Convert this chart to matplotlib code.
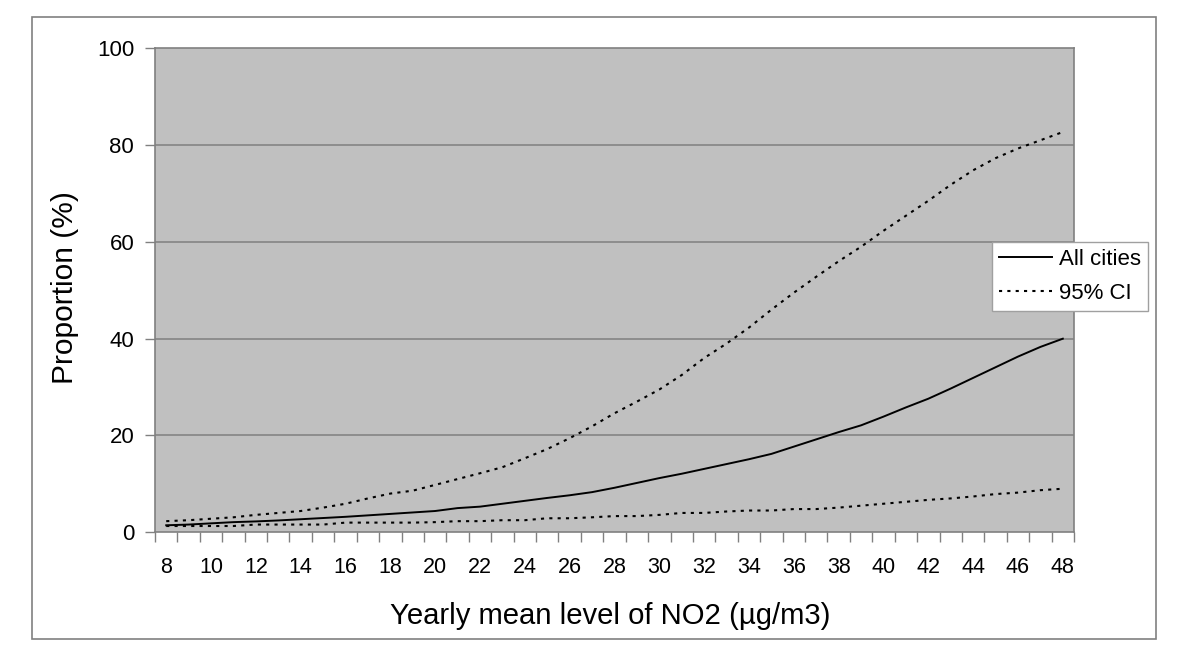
import matplotlib
matplotlib.use("Agg")
import matplotlib.pyplot as plt
from matplotlib.patches import Rectangle
import numpy as np

plt.rcParams['font.family'] = ['Liberation Sans', 'DejaVu Sans']

no2_levels = list(range(8, 49))
all_cities = [1.45, 1.6, 1.85, 2.1, 2.25, 2.45, 2.7, 2.95, 3.2, 3.5,
              3.8, 4.1, 4.4, 5.0, 5.3, 5.9, 6.5, 7.1, 7.65, 8.3,
              9.2, 10.2, 11.2, 12.1, 13.1, 14.1, 15.1, 16.2, 17.7, 19.2,
              20.7, 22.1, 23.9, 25.8, 27.6, 29.7, 31.9, 34.1, 36.3, 38.3,
              40.0]
ci_upper = [2.3, 2.5, 2.8, 3.1, 3.6, 4.0, 4.4, 5.1, 5.9, 7.0,
            8.0, 8.6, 9.8, 11.0, 12.2, 13.45, 15.3, 17.2, 19.45, 21.9,
            24.6, 27.0, 29.5, 32.5, 36.0, 39.0, 42.3, 46.0, 49.5, 52.8,
            56.0, 59.0, 62.3, 65.4, 68.5, 71.8, 74.8, 77.3, 79.3, 81.0,
            82.7]
ci_lower = [1.3, 1.3, 1.3, 1.3, 1.6, 1.6, 1.6, 1.6, 2.0, 2.0,
            2.0, 2.0, 2.1, 2.3, 2.3, 2.5, 2.5, 2.9, 2.9, 3.1,
            3.35, 3.35, 3.6, 4.0, 4.0, 4.3, 4.5, 4.5, 4.8, 4.8,
            5.1, 5.5, 5.9, 6.3, 6.7, 7.0, 7.4, 7.9, 8.2, 8.7,
            9.0]
x_tick_labels = [str(v) for v in range(8, 49, 2)]
y_ticks = [0, 20, 40, 60, 80, 100]

W, H = 1200, 670
fig = plt.figure(figsize=(12, 6.7), dpi=100)
fig.patch.set_facecolor('white')

# outer frame
fig.patches.append(Rectangle((32 / W, 1 - 639 / H), (1156 - 32) / W, (639 - 17) / H,
                             transform=fig.transFigure, fill=False,
                             edgecolor='#808080', linewidth=1.2, zorder=0))

left, right, top, bottom = 155, 1074, 48.3, 532.3
ax = fig.add_axes([left / W, 1 - bottom / H, (right - left) / W, (bottom - top) / H])
ax.set_facecolor('#c0c0c0')

x = np.arange(len(no2_levels))
ax.plot(x, all_cities, color='black', linewidth=1.4, solid_joinstyle='round', label='All cities', zorder=3)
ax.plot(x, ci_upper, color='black', linewidth=1.5, linestyle=(0, (1.5, 2.5)), label='95% CI', zorder=3)
ax.plot(x, ci_lower, color='black', linewidth=1.5, linestyle=(0, (1.5, 2.5)), zorder=3)

ax.set_xlim(-0.5, len(no2_levels) - 0.5)
ax.set_ylim(0, 100)

ax.set_yticks(y_ticks)
ax.set_yticklabels([str(v) for v in y_ticks], fontsize=16)
for yv in y_ticks[1:-1]:
    ax.axhline(yv, color='#808080', linewidth=1.1, zorder=1)

major_pos = [no2_levels.index(int(t)) for t in x_tick_labels]
ax.set_xticks(major_pos)
ax.set_xticklabels(x_tick_labels, fontsize=15.5)
ax.set_xticks(np.arange(-0.5, len(no2_levels) + 0.5, 1.0), minor=True)
ax.tick_params(axis='x', which='major', length=0, pad=18)
ax.tick_params(axis='x', which='minor', length=7, color='#808080', width=1)
ax.tick_params(axis='y', which='major', length=7, color='#808080', width=1, pad=8)

for s in ax.spines.values():
    s.set_color('#808080')
    s.set_linewidth(1.2)

ax.set_xlabel('Yearly mean level of NO2 (µg/m3)', fontsize=21.1, labelpad=17)
ax.xaxis.label.set_x(0.5 - 4 / (right - left))
ax.set_ylabel('Proportion (%)', fontsize=21.5, labelpad=13)
ax.yaxis.label.set_y(0.5 + 3 / (bottom - top))

leg = ax.legend(loc='upper left', bbox_to_anchor=(992 / W, 1 - 242 / H),
                bbox_transform=fig.transFigure, fontsize=16, frameon=True,
                fancybox=False, framealpha=1, edgecolor='#a0a0a0',
                handlelength=2.4, handletextpad=0.3, borderpad=0.32,
                labelspacing=0.58, borderaxespad=0)
leg.get_frame().set_linewidth(1.0)
leg.set_zorder(5)

fig.savefig('out.png', dpi=100)
